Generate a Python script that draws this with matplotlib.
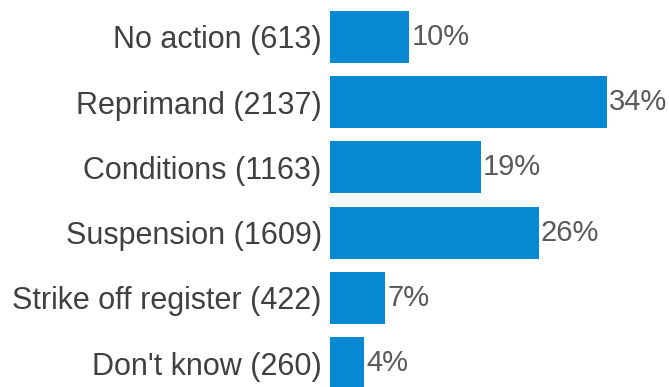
import matplotlib
matplotlib.use("Agg")
from matplotlib import pyplot as plt

outcomes = ["No action", "Reprimand", "Conditions",
            "Suspension", "Strike off register", "Don't know"]
counts = [613, 2137, 1163, 1609, 422, 260]

plt.rcParams["font.family"] = ["Liberation Sans", "DejaVu Sans"]

total = sum(counts)
shares = [100.0 * c / total for c in counts]
labels = ["%s (%d)" % (o, c) for o, c in zip(outcomes, counts)]

W, H = 669, 387
fig = plt.figure(figsize=(W / 100, H / 100), dpi=100)
ax = fig.add_axes([330 / W, 0, 1 - 330 / W, 1])

ypos = list(range(len(outcomes)))
ax.barh(ypos, shares, height=0.8, color="#0788D3")

for y, p in zip(ypos, shares):
    ax.text(p + 0.3, y, "%d%%" % round(p), va="center", ha="left",
            fontsize=21, color="#595959")

ax.set_yticks(ypos)
ax.set_yticklabels(labels, fontsize=22, color="#404040")
ax.tick_params(axis="y", length=0, pad=6)
ax.set_xticks([])
ax.set_xlim(0, 339 / 8.04)
ax.set_ylim(5.368, -0.567)
for s in ax.spines.values():
    s.set_visible(False)

fig.savefig("out.png", dpi=100)
